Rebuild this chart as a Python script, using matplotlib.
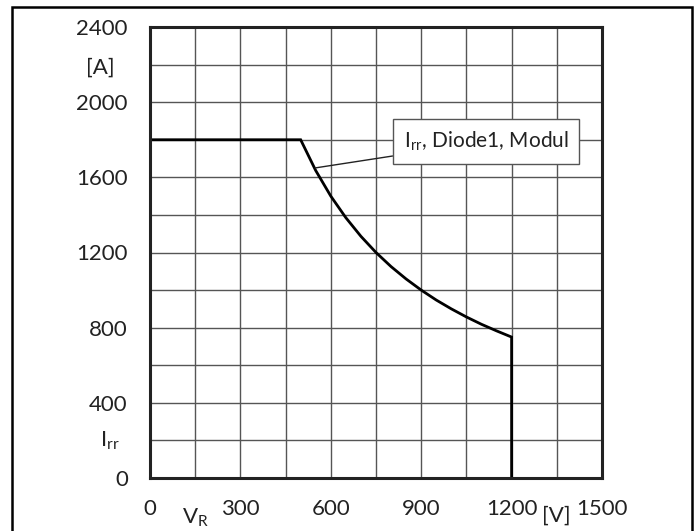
import matplotlib
matplotlib.use("Agg")
import matplotlib.pyplot as plt
from matplotlib.patches import Rectangle

plt.rcParams['font.family'] = ['Lato', 'DejaVu Sans']

# Data
v_r = [0, 500, 550, 600, 650, 700, 750, 800, 850, 900, 950, 1000, 1050, 1100, 1150, 1200, 1200]
i_rr = [1800, 1800, 1636, 1500, 1385, 1286, 1200, 1125, 1059, 1000, 947, 900, 857, 818, 783, 750, 0]

x_grid = [0, 150, 300, 450, 600, 750, 900, 1050, 1200, 1350, 1500]
x_labels = ['0', '', '300', '', '600', '', '900', '', '1200', '', '1500']
y_grid = [0, 200, 400, 600, 800, 1000, 1200, 1400, 1600, 1800, 2000, 2200, 2400]
y_labels = ['0', '', '400', '', '800', '', '1200', '', '1600', '', '2000', '', '2400']

label_text = r'I$_{\mathregular{rr}}$, Diode1, Modul'

FS = 16
TC = '#222222'

fig = plt.figure(figsize=(6.97, 5.31), dpi=100)
ax = fig.add_axes([150/697, 53/531, 452/697, 451/531])

ax.set_xlim(0, 1500)
ax.set_ylim(0, 2400)
ax.set_xticks(x_grid)
ax.set_xticklabels(x_labels)
ax.set_yticks(y_grid)
ax.set_yticklabels(y_labels)
ax.tick_params(length=0, labelsize=FS, colors=TC)
ax.tick_params(axis='x', pad=15)
ax.tick_params(axis='y', pad=16)
ax.grid(True, color='#555555', linewidth=1.0)
ax.set_axisbelow(True)
for s in ax.spines.values():
    s.set_linewidth(2.2)
    s.set_color(TC)

ax.plot(v_r, i_rr, color='black', linewidth=2.0, solid_joinstyle='miter')

# axis unit labels
ax.text(150, -210, 'V$_{\\mathregular{R}}$', ha='center', va='center',
        fontsize=FS, color=TC, clip_on=False)
ax.text(1350, -200, '[V]', ha='center', va='center',
        fontsize=FS, color=TC, clip_on=False)
ax.text(-166, 2182, '[A]', ha='center', va='center', fontsize=FS, color=TC, clip_on=False)
ax.text(-133, 200, 'I$_{\\mathregular{rr}}$', ha='center', va='center', fontsize=FS,
        color=TC, clip_on=False)

ax.annotate(label_text, xy=(548, 1650), xytext=(1115, 1790),
            ha='center', va='center', fontsize=15, color=TC,
            bbox=dict(boxstyle='square,pad=0.5', fc='white', ec='#555555', lw=1.0),
            arrowprops=dict(arrowstyle='-', color=TC, lw=1.0,
                            shrinkA=0, shrinkB=0))

fig.patches.append(Rectangle((12/697, -0.05), 680/697, 1.05 - 7/531,
                             transform=fig.transFigure, fill=False,
                             ec='black', lw=1.8))

fig.savefig('out.png', dpi=100)
